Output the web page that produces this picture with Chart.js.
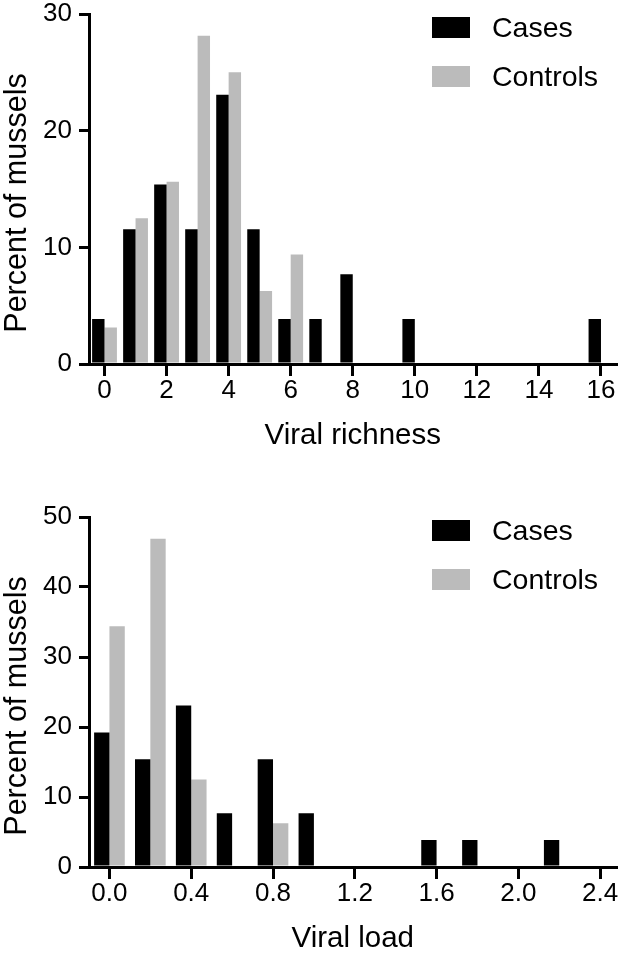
<!DOCTYPE html>
<html>
<head>
<meta charset="utf-8">
<script src="https://cdn.jsdelivr.net/npm/chart.js@4.4.1/dist/chart.umd.min.js"></script>
<style>
  body { margin: 0; background: #fff; font-family: "Liberation Sans", Arial, sans-serif; overflow: hidden; }
  .panel { position: relative; width: 618px; height: 479px; overflow: hidden; }
  .panel.second { margin-top: 24px; height: 455px; }
  .legend { position: absolute; left: 432px; top: 17px; font-size: 28.5px; color: #000; }
  .legend div { height: 49px; display: flex; align-items: flex-start; }
  .legend span.box { display: inline-block; width: 38px; height: 21px; margin-right: 22px; }
  .legend span.lab { line-height: 21px; }
  .ytitle { position: absolute; left: -135px; top: 188px; width: 300px; height: 30px; line-height: 30px;
            font-size: 30.5px; text-align: center; color: #000; transform: rotate(-90deg); white-space: nowrap; }
</style>
</head>
<body>
<div class="panel"><canvas id="richness" width="618" height="479"></canvas><div class="legend" id="leg1"></div><div class="ytitle">Percent of mussels</div></div>
<div class="panel second"><canvas id="load" width="618" height="479"></canvas><div class="legend" id="leg2"></div><div class="ytitle">Percent of mussels</div></div>
<script>
// top panel: viral richness
var richnessBins = [0, 1, 2, 3, 4, 5, 6, 7, 8, 9, 10, 11, 12, 13, 14, 15, 16];
var richnessCases = [3.85, 11.54, 15.38, 11.54, 23.08, 11.54, 3.85, 3.85, 7.69, 0, 3.85, 0, 0, 0, 0, 0, 3.85];
var richnessControls = [3.13, 12.5, 15.63, 28.13, 25, 6.25, 9.38, 0, 0, 0, 0, 0, 0, 0, 0, 0, 0];
var richnessTicks = [0, 2, 4, 6, 8, 10, 12, 14, 16];

// bottom panel: viral load
var loadBins = [0, 0.2, 0.4, 0.6, 0.8, 1.0, 1.2, 1.4, 1.6, 1.8, 2.0, 2.2];
var loadCases = [19.23, 15.38, 23.08, 7.69, 15.38, 7.69, 0, 0, 3.85, 3.85, 0, 3.85];
var loadControls = [34.38, 46.88, 12.5, 0, 6.25, 0, 0, 0, 0, 0, 0, 0];
var loadTicks = [0, 0.4, 0.8, 1.2, 1.6, 2.0, 2.4];

var seriesNames = ['Cases', 'Controls'];
var seriesColors = ['#000000', '#bbbbbb'];

var FONT = '"Liberation Sans", Arial, sans-serif';

function points(bins, vals) {
  var out = [];
  for (var i = 0; i < bins.length; i++) {
    if (vals[i] > 0) out.push({ x: bins[i], y: vals[i] });
  }
  return out;
}

function makeChart(id, legId, bins, cases, controls, xTicks, xMin, xMax, decimals, yMax, xTitle, catPct) {
  var chart = new Chart(document.getElementById(id), {
    type: 'bar',
    data: {
      datasets: [
        { label: seriesNames[0], data: points(bins, cases), backgroundColor: seriesColors[0] },
        { label: seriesNames[1], data: points(bins, controls), backgroundColor: seriesColors[1] }
      ]
    },
    options: {
      responsive: false,
      animation: false,
      categoryPercentage: catPct,
      barPercentage: 1.0,
      layout: { padding: { top: 14, right: 1.5, left: 0, bottom: 0 } },
      plugins: { legend: { display: false }, tooltip: { enabled: false } },
      scales: {
        x: {
          type: 'linear',
          min: xMin,
          max: xMax,
          offset: false,
          afterBuildTicks: function (scale) {
            scale.ticks = xTicks.map(function (v) { return { value: v }; });
          },
          afterFit: function (scale) {
            scale.height = 115;
            scale.paddingLeft = 0;
            scale.paddingRight = 0;
          },
          grid: { offset: false, drawOnChartArea: false, drawTicks: true, tickLength: 12, color: '#000', lineWidth: 3 },
          border: { color: '#000', width: 3 },
          ticks: {
            color: '#000', padding: 2,
            font: { family: FONT, size: 26, lineHeight: 1 },
            callback: function (v) { return Number(v).toFixed(decimals); }
          },
          title: { display: true, text: xTitle, color: '#000', font: { family: FONT, size: 29.5 }, padding: { top: 0, bottom: 25 } }
        },
        y: {
          min: 0,
          max: yMax,
          afterFit: function (scale) {
            scale.width = 89;
            scale.paddingTop = 0;
            scale.paddingBottom = 0;
          },
          grid: { drawOnChartArea: false, drawTicks: true, tickLength: 10, color: '#000', lineWidth: 3 },
          border: { color: '#000', width: 3 },
          ticks: { stepSize: 10, color: '#000', padding: 7, font: { family: FONT, size: 26, lineHeight: 1 } }
        }
      }
    }
  });
  // html legend built from the chart datasets
  var leg = document.getElementById(legId);
  chart.data.datasets.forEach(function (ds) {
    var row = document.createElement('div');
    row.innerHTML = '<span class="box" style="background:' + ds.backgroundColor + '"></span><span class="lab">' + ds.label + '</span>';
    leg.appendChild(row);
  });
  return chart;
}

makeChart('richness', 'leg1', richnessBins, richnessCases, richnessControls, richnessTicks, -0.5, 16.5, 0, 30, 'Viral richness', 0.8);
makeChart('load', 'leg2', loadBins, loadCases, loadControls, loadTicks, -0.1, 2.48, 1, 50, 'Viral load', 0.75);
</script>
</body>
</html>
